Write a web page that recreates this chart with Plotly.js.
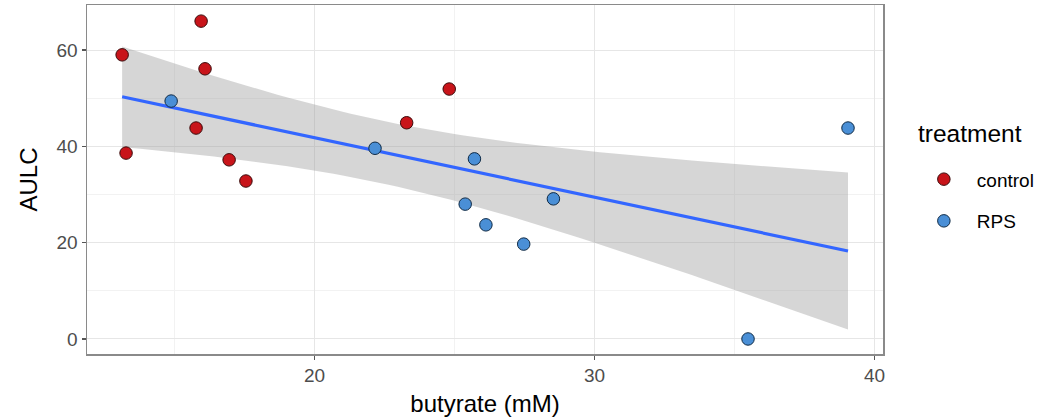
<!DOCTYPE html>
<html>
<head>
<meta charset="utf-8">
<script src="https://cdn.plot.ly/plotly-3.0.1.min.js"></script>
<style>html,body{margin:0;padding:0;background:#fff}#chart{width:1052px;height:419px}</style>
</head>
<body>
<div id="chart"></div>
<script>
// Data
const controlButyrate = [13.13, 13.27, 15.95, 16.09, 15.77, 16.95, 17.55, 23.29, 24.81];
const controlAULC     = [59.0, 38.6, 66.0, 56.1, 43.8, 37.2, 32.8, 44.9, 51.9];
const rpsButyrate     = [14.88, 22.16, 25.71, 25.38, 26.12, 27.47, 28.53, 35.48, 39.05];
const rpsAULC         = [49.4, 39.6, 37.4, 28.0, 23.7, 19.7, 29.1, 0.0, 43.8];
const groupNames      = ["control", "RPS"];
const legendTitle     = "treatment";
const xTicks = [20, 30, 40];
const yTicks = [0, 20, 40, 60];

// Linear fit with 95% confidence band (as geom_smooth(method = "lm"))
const allX = controlButyrate.concat(rpsButyrate);
const allY = controlAULC.concat(rpsAULC);
const n = allX.length;
const mx = allX.reduce((a, b) => a + b, 0) / n;
const my = allY.reduce((a, b) => a + b, 0) / n;
let sxx = 0, sxy = 0;
for (let i = 0; i < n; i++) { sxx += (allX[i] - mx) ** 2; sxy += (allX[i] - mx) * (allY[i] - my); }
const slope = sxy / sxx, intercept = my - slope * mx;
let sse = 0;
for (let i = 0; i < n; i++) sse += (allY[i] - (intercept + slope * allX[i])) ** 2;
const s = Math.sqrt(sse / (n - 2));
const tCrit = 2.119905; // t(0.975, df = 16)
const xmin = Math.min(...allX), xmax = Math.max(...allX);
const fx = [], fy = [], up = [], lo = [];
for (let k = 0; k < 80; k++) {
  const x = xmin + (xmax - xmin) * k / 79;
  const y = intercept + slope * x;
  const se = s * Math.sqrt(1 / n + (x - mx) ** 2 / sxx);
  fx.push(x); fy.push(y); up.push(y + tCrit * se); lo.push(y - tCrit * se);
}

const FONT = 'Liberation Sans, Arial, sans-serif';

const traces = [
  {x: fx.concat(fx.slice().reverse()), y: up.concat(lo.slice().reverse()), type: 'scatter', mode: 'lines',
   fill: 'toself', fillcolor: 'rgba(153,153,153,0.4)', line: {width: 0}, showlegend: false, hoverinfo: 'skip'},
  {x: fx, y: fy, type: 'scatter', mode: 'lines', line: {color: '#3366FF', width: 3.2}, showlegend: false, hoverinfo: 'skip'},
  {x: controlButyrate, y: controlAULC, type: 'scatter', mode: 'markers', name: groupNames[0], legendgroup: 'a',
   marker: {size: 12.5, color: '#C8141A', line: {color: '#3a0a0a', width: 1}}},
  {x: rpsButyrate, y: rpsAULC, type: 'scatter', mode: 'markers', name: groupNames[1], legendgroup: 'b',
   marker: {size: 12.5, color: '#4A8FD6', line: {color: '#0f2a45', width: 1}}}
];

const axisCommon = {
  showline: true, mirror: true, linecolor: '#8a8a8a', linewidth: 1.5,
  showgrid: true, gridcolor: '#E6E6E6', gridwidth: 1,
  zeroline: false, ticks: 'outside', ticklen: 4, tickcolor: '#555', tickwidth: 1.2,
  tickfont: {family: FONT, size: 19, color: '#4D4D4D'}
};

const layout = {
  width: 1052, height: 419,
  margin: {l: 87, r: 169, t: 5, b: 65},
  paper_bgcolor: '#fff', plot_bgcolor: '#fff',
  font: {family: FONT, color: '#000'},
  xaxis: Object.assign({}, axisCommon, {
    range: [11.875, 40.30], tickvals: xTicks, ticktext: xTicks.map(String),
    minor: {showgrid: true, gridcolor: '#F2F2F2', dtick: 5, tick0: 0, ticks: ''},
    title: {text: 'butyrate (mM)', font: {size: 24, color: '#000'}, standoff: 10}
  }),
  yaxis: Object.assign({}, axisCommon, {
    range: [-3.12, 69.35], tickvals: yTicks, ticktext: yTicks.map(String),
    minor: {showgrid: true, gridcolor: '#F2F2F2', dtick: 10, tick0: 0, ticks: ''},
    title: {text: 'AULC', font: {size: 24, color: '#000'}, standoff: 12}
  }),
  legend: {
    x: 1.035, xanchor: 'left', y: 0.555, yanchor: 'top',
    font: {size: 19, color: '#000'}, tracegroupgap: 14, itemwidth: 56
  },
  annotations: [{
    text: legendTitle, xref: 'paper', yref: 'paper', x: 1.042, y: 0.633,
    xanchor: 'left', yanchor: 'middle', showarrow: false,
    font: {family: FONT, size: 24.5, color: '#000'}
  }],
  showlegend: true
};

Plotly.newPlot('chart', traces, layout, {displayModeBar: false, staticPlot: true});
</script>
</body>
</html>
